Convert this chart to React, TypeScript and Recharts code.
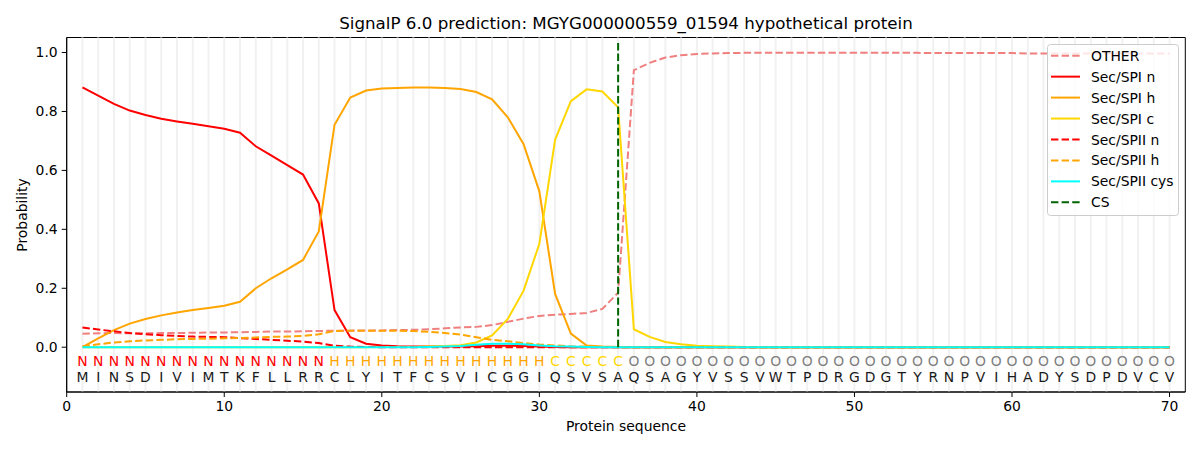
import { ComposedChart, Legend, Line, ReferenceArea, ReferenceLine, XAxis, YAxis } from "recharts"

const sequence = "MINSDIVIMTKFLLRRCLYITFCSVICGGIQSVSAQSAGYVSSVWTPDRGDGTYRNPVIHADYSDPDVCV".split("")
const regions = "NNNNNNNNNNNNNNNNHHHHHHHHHHHHHHCCCCCOOOOOOOOOOOOOOOOOOOOOOOOOOOOOOOOOOO".split("")
const positions = sequence.map((_, i) => i + 1)

const other = [
	0.046, 0.047, 0.048, 0.047, 0.047, 0.048, 0.048, 0.049, 0.05, 0.05,
	0.051, 0.052, 0.053, 0.053, 0.054, 0.055, 0.056, 0.056, 0.057, 0.057,
	0.058, 0.059, 0.061, 0.064, 0.067, 0.069, 0.075, 0.086, 0.097, 0.106,
	0.11, 0.113, 0.116, 0.13, 0.185, 0.94, 0.965, 0.983, 0.991, 0.995,
	0.997, 0.998, 0.999, 0.999, 0.999, 0.999, 0.999, 0.999, 0.999, 0.999,
	0.999, 0.999, 0.999, 0.999, 0.998, 0.998, 0.998, 0.998, 0.998, 0.998,
	0.997, 0.997, 0.997, 0.997, 0.997, 0.997, 0.997, 0.997, 0.997, 0.997
]
const spiN = [
	0.882, 0.854, 0.826, 0.803, 0.788, 0.775, 0.766, 0.758, 0.75, 0.741,
	0.728, 0.682, 0.65, 0.618, 0.586, 0.488, 0.126, 0.034, 0.012, 0.006,
	0.003, 0.002, 0.002, 0.002, 0.002, 0.003, 0.005, 0.005, 0.004, 0.002,
	0.001, 0, 0, 0, 0, 0, 0, 0, 0, 0,
	0, 0, 0, 0, 0, 0, 0, 0, 0, 0,
	0, 0, 0, 0, 0, 0, 0, 0, 0, 0,
	0, 0, 0, 0, 0, 0, 0, 0, 0, 0
]
const spiH = [
	0, 0.03, 0.058, 0.08, 0.096, 0.108, 0.118, 0.126, 0.133, 0.141,
	0.154, 0.2, 0.234, 0.264, 0.296, 0.393, 0.755, 0.847, 0.871, 0.878,
	0.88, 0.881, 0.881, 0.88, 0.876, 0.866, 0.841, 0.78, 0.689, 0.529,
	0.181, 0.046, 0.006, 0.002, 0.001, 0, 0, 0, 0, 0,
	0, 0, 0, 0, 0, 0, 0, 0, 0, 0,
	0, 0, 0, 0, 0, 0, 0, 0, 0, 0,
	0, 0, 0, 0, 0, 0, 0, 0, 0, 0
]
const spiC = [
	0, 0, 0, 0, 0, 0, 0, 0, 0, 0,
	0, 0, 0, 0, 0, 0, 0, 0, 0, 0.001,
	0.001, 0.001, 0.002, 0.004, 0.007, 0.016, 0.04, 0.096, 0.192, 0.351,
	0.704, 0.835, 0.875, 0.868, 0.814, 0.061, 0.035, 0.018, 0.01, 0.005,
	0.003, 0.002, 0.001, 0, 0, 0, 0, 0, 0, 0,
	0, 0, 0, 0, 0, 0, 0, 0, 0, 0,
	0, 0, 0, 0, 0, 0, 0, 0, 0, 0
]
const spiiN = [
	0.067, 0.06, 0.054, 0.048, 0.044, 0.041, 0.038, 0.036, 0.035, 0.034,
	0.031, 0.028, 0.025, 0.022, 0.019, 0.014, 0.005, 0.002, 0.001, 0,
	0, 0, 0, 0, 0, 0, 0, 0, 0, 0,
	0, 0, 0, 0, 0, 0, 0, 0, 0, 0,
	0, 0, 0, 0, 0, 0, 0, 0, 0, 0,
	0, 0, 0, 0, 0, 0, 0, 0, 0, 0,
	0, 0, 0, 0, 0, 0, 0, 0, 0, 0
]
const spiiH = [
	0.003, 0.01, 0.016, 0.02, 0.023, 0.025, 0.027, 0.028, 0.029, 0.03,
	0.031, 0.033, 0.035, 0.036, 0.038, 0.044, 0.055, 0.056, 0.056, 0.056,
	0.056, 0.055, 0.052, 0.048, 0.043, 0.034, 0.025, 0.02, 0.014, 0.009,
	0.006, 0.003, 0.002, 0.001, 0, 0, 0, 0, 0, 0,
	0, 0, 0, 0, 0, 0, 0, 0, 0, 0,
	0, 0, 0, 0, 0, 0, 0, 0, 0, 0,
	0, 0, 0, 0, 0, 0, 0, 0, 0, 0
]
const spiiCys = [
	0, 0, 0, 0, 0, 0, 0, 0, 0, 0,
	0, 0, 0, 0, 0, 0, 0, 0, 0, 0,
	0, 0, 0.001, 0.002, 0.004, 0.008, 0.012, 0.012, 0.01, 0.006,
	0.003, 0.002, 0.001, 0, 0, 0, 0, 0, 0, 0,
	0, 0, 0, 0, 0, 0, 0, 0, 0, 0,
	0, 0, 0, 0, 0, 0, 0, 0, 0, 0,
	0, 0, 0, 0, 0, 0, 0, 0, 0, 0
]
const cleavageSite = 35
const xTicks = [0, 10, 20, 30, 40, 50, 60, 70]
const yTicks = [0, 0.2, 0.4, 0.6, 0.8, 1.0]

const X_DOMAIN: [number, number] = [0, 71]
const Y_DOMAIN: [number, number] = [-0.152, 1.051]
const REGION_ROW = -0.047
const RESIDUE_ROW = -0.1
const FONT = "DejaVu Sans, sans-serif"
const DASH = "7.4 3.2"

const regionColors: Record<string, string> = {
	N: "#ff0000",
	H: "#ffa500",
	C: "#ffd700",
	O: "#808080"
}

const series = [
	{ key: "other", name: "OTHER", color: "#f08080", dash: DASH, values: other },
	{ key: "spiN", name: "Sec/SPI n", color: "#ff0000", dash: undefined, values: spiN },
	{ key: "spiH", name: "Sec/SPI h", color: "#ffa500", dash: undefined, values: spiH },
	{ key: "spiC", name: "Sec/SPI c", color: "#ffd700", dash: undefined, values: spiC },
	{ key: "spiiN", name: "Sec/SPII n", color: "#ff0000", dash: DASH, values: spiiN },
	{ key: "spiiH", name: "Sec/SPII h", color: "#ffa500", dash: DASH, values: spiiH },
	{ key: "spiiCys", name: "Sec/SPII cys", color: "#00ffff", dash: undefined, values: spiiCys }
]

const legendItems = [
	...series.map(s => ({ name: s.name, color: s.color, dash: s.dash })),
	{ name: "CS", color: "#006400", dash: DASH }
]

const data = positions.map((pos, i) => {
	const row: Record<string, number | string> = {
		pos,
		residue: sequence[i],
		region: regions[i],
		regionRow: REGION_ROW,
		residueRow: RESIDUE_ROW
	}
	series.forEach(s => {
		row[s.key] = s.values[i]
	})
	return row
})

const LegendBox = () => (
	<svg width={132} height={172} style={{ display: "block" }}>
		<rect x={0.5} y={0.5} width={131} height={171} rx={3} fill="#ffffff" fillOpacity={0.8} stroke="#cccccc" />
		{legendItems.map((item, i) => {
			const y = 11.7 + i * 20.95
			return (
				<g key={item.name}>
					<line x1={4} x2={33} y1={y} y2={y} stroke={item.color} strokeWidth={2} strokeDasharray={item.dash} />
					<text x={44} y={y} dominantBaseline="central" fontSize={13.9} fontFamily={FONT} fill="#000">
						{item.name}
					</text>
				</g>
			)
		})}
	</svg>
)

const letterDot = (field: "region" | "residue") => (props: any) => {
	const { cx, cy, payload, index } = props
	const ch = payload[field]
	const fill = field === "region" ? regionColors[ch] : "#1a1a1a"
	return (
		<text
			key={`${field}-${index}`}
			x={cx}
			y={cy}
			textAnchor="middle"
			dominantBaseline="central"
			fontSize={13.9}
			fontFamily={FONT}
			fill={fill}
		>
			{ch}
		</text>
	)
}

export default function App() {
	return (
		<div style={{ position: "absolute", left: 0, top: 0, width: 1200, height: 450, background: "#fff", fontFamily: FONT }}>
			<div style={{ position: "absolute", left: 66.7, width: 1118.6, top: 13, textAlign: "center", fontSize: 16.7, color: "#000" }}>
				SignalP 6.0 prediction: MGYG000000559_01594 hypothetical protein
			</div>
			<div style={{ position: "absolute", left: 66.7, width: 1118.6, top: 418, textAlign: "center", fontSize: 13.9, color: "#000" }}>
				Protein sequence
			</div>
			<div
				style={{
					position: "absolute",
					left: 22,
					top: 214.5,
					transform: "translate(-50%, -50%) rotate(-90deg)",
					fontSize: 13.9,
					color: "#000",
					whiteSpace: "nowrap"
				}}
			>
				Probability
			</div>
			<ComposedChart
				width={1200}
				height={450}
				data={data}
				margin={{ top: 37.5, right: 14.7, bottom: 0, left: 0 }}
			>
				<XAxis
					type="number"
					dataKey="pos"
					domain={X_DOMAIN}
					ticks={xTicks}
					allowDataOverflow
					height={58}
					tickSize={5}
					tickMargin={4}
					stroke="#000"
					tick={{ fill: "#000", fontSize: 13.9 }}
				/>
				<YAxis
					type="number"
					domain={Y_DOMAIN}
					ticks={yTicks}
					allowDataOverflow
					width={66.7}
					tickSize={5}
					tickMargin={4}
					stroke="#000"
					tick={{ fill: "#000", fontSize: 13.9 }}
					tickFormatter={(v: number) => v.toFixed(1)}
				/>
				{positions.map(p => (
					<ReferenceLine key={`grid-${p}`} x={p} stroke="#f1f1f1" strokeWidth={2} />
				))}
				{series.map(s => (
					<Line
						key={s.key}
						type="linear"
						dataKey={s.key}
						name={s.name}
						stroke={s.color}
						strokeWidth={2}
						strokeDasharray={s.dash}
						dot={false}
						activeDot={false}
						isAnimationActive={false}
					/>
				))}
				<Line
					dataKey="regionRow"
					stroke="none"
					dot={letterDot("region")}
					activeDot={false}
					legendType="none"
					isAnimationActive={false}
				/>
				<Line
					dataKey="residueRow"
					stroke="none"
					dot={letterDot("residue")}
					activeDot={false}
					legendType="none"
					isAnimationActive={false}
				/>
				<ReferenceLine
					segment={[
						{ x: cleavageSite, y: 0 },
						{ x: cleavageSite, y: 1.04 }
					]}
					stroke="#006400"
					strokeWidth={2}
					strokeDasharray={DASH}
				/>
				<ReferenceArea
					x1={X_DOMAIN[0]}
					x2={X_DOMAIN[1]}
					y1={Y_DOMAIN[0]}
					y2={Y_DOMAIN[1]}
					fill="none"
					stroke="#000"
					strokeWidth={1}
					ifOverflow="visible"
				/>
				<Legend
					layout="vertical"
					align="center"
					verticalAlign="middle"
					content={() => <LegendBox />}
					wrapperStyle={{ position: "absolute", left: 1046.7, top: 44.3, width: 132, height: 172 }}
				/>
			</ComposedChart>
		</div>
	)
}
